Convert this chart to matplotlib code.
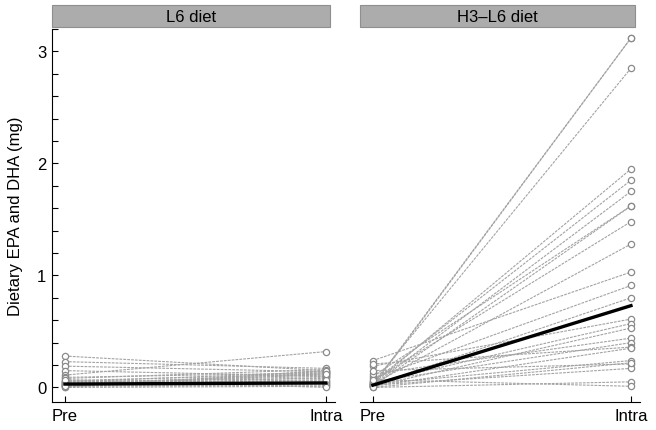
import matplotlib
matplotlib.use("Agg")
import matplotlib.pyplot as plt
from matplotlib.patches import Rectangle
from matplotlib.ticker import MultipleLocator

plt.rcParams['font.family'] = ['Liberation Sans', 'DejaVu Sans']

timepoints = ["Pre", "Intra"]
panel_titles = ["L6 diet", "H3\u2013L6 diet"]

# L6 diet, one value per subject
l6_pre = [0.28, 0.23, 0.19, 0.15, 0.11, 0.09, 0.08, 0.06, 0.05, 0.05, 0.04, 0.03,
          0.03, 0.02, 0.02, 0.01, 0.01, 0.00, 0.00, 0.06, 0.04, 0.02, 0.07, 0.01]
l6_intra = [0.15, 0.17, 0.14, 0.10, 0.32, 0.13, 0.16, 0.12, 0.08, 0.14, 0.06, 0.10,
            0.05, 0.13, 0.03, 0.09, 0.02, 0.01, 0.15, 0.04, 0.11, 0.07, 0.00, 0.12]
l6_mean = [0.03, 0.04]

# H3-L6 diet
h3_pre = [0.02, 0.01, 0.04, 0.03, 0.05, 0.02, 0.10, 0.01, 0.06, 0.03, 0.24, 0.08, 0.02,
          0.19, 0.04, 0.01, 0.12, 0.05, 0.21, 0.03, 0.15, 0.02, 0.00, 0.07, 0.01, 0.00]
h3_intra = [3.12, 3.12, 2.85, 1.95, 1.85, 1.75, 1.62, 1.62, 1.48, 1.28, 1.03, 0.91, 0.80,
            0.61, 0.57, 0.53, 0.44, 0.40, 0.36, 0.24, 0.21, 0.17, 0.05, 0.01, 0.35, 0.22]
h3_mean = [0.02, 0.73]

fig = plt.figure(figsize=(6.56, 4.31), dpi=100)
ax1 = fig.add_axes([0.0793, 0.065, 0.4314, 0.8654])
ax2 = fig.add_axes([0.5488, 0.065, 0.4268, 0.8654])

panels = [(ax1, l6_pre, l6_intra, l6_mean), (ax2, h3_pre, h3_intra, h3_mean)]
for i, (ax, pre, intra, mean) in enumerate(panels):
    for a, b in zip(pre, intra):
        ax.plot([0, 1], [a, b], color='#a3a3a3', lw=0.8, ls=(0, (2.5, 1)),
                marker='o', ms=4.5, mfc='white', mec='#8a8a8a', mew=0.9, zorder=2)
    ax.plot([0, 1], mean, color='black', lw=2.4, zorder=3)

    ax.set_xlim(-0.05, 1.035)
    ax.set_ylim(-0.13, 3.2)
    ax.set_xticks([0, 1])
    ax.set_xticklabels(timepoints, fontsize=12)
    ax.spines['top'].set_visible(False)
    ax.spines['right'].set_visible(False)
    ax.tick_params(direction='in', length=4, width=0.8, pad=4)
    ax.tick_params(axis='y', which='minor', direction='in', length=4, width=0.8)

    ax.add_patch(Rectangle((0, 1.005), 0.982, 0.059, transform=ax.transAxes,
                           facecolor='#acacac', edgecolor='#8f8f8f', lw=0.8,
                           clip_on=False))
    ax.text(0.491, 1.0345, panel_titles[i], transform=ax.transAxes,
            ha='center', va='center', fontsize=12)

ax1.set_yticks([0, 1, 2, 3])
ax1.yaxis.set_minor_locator(MultipleLocator(0.2))
ax1.tick_params(axis='y', labelsize=12)
ax1.set_ylabel("Dietary EPA and DHA (mg)", fontsize=12, labelpad=10)

ax2.spines['left'].set_visible(False)
ax2.set_yticks([])

fig.savefig("out.png", dpi=100)
